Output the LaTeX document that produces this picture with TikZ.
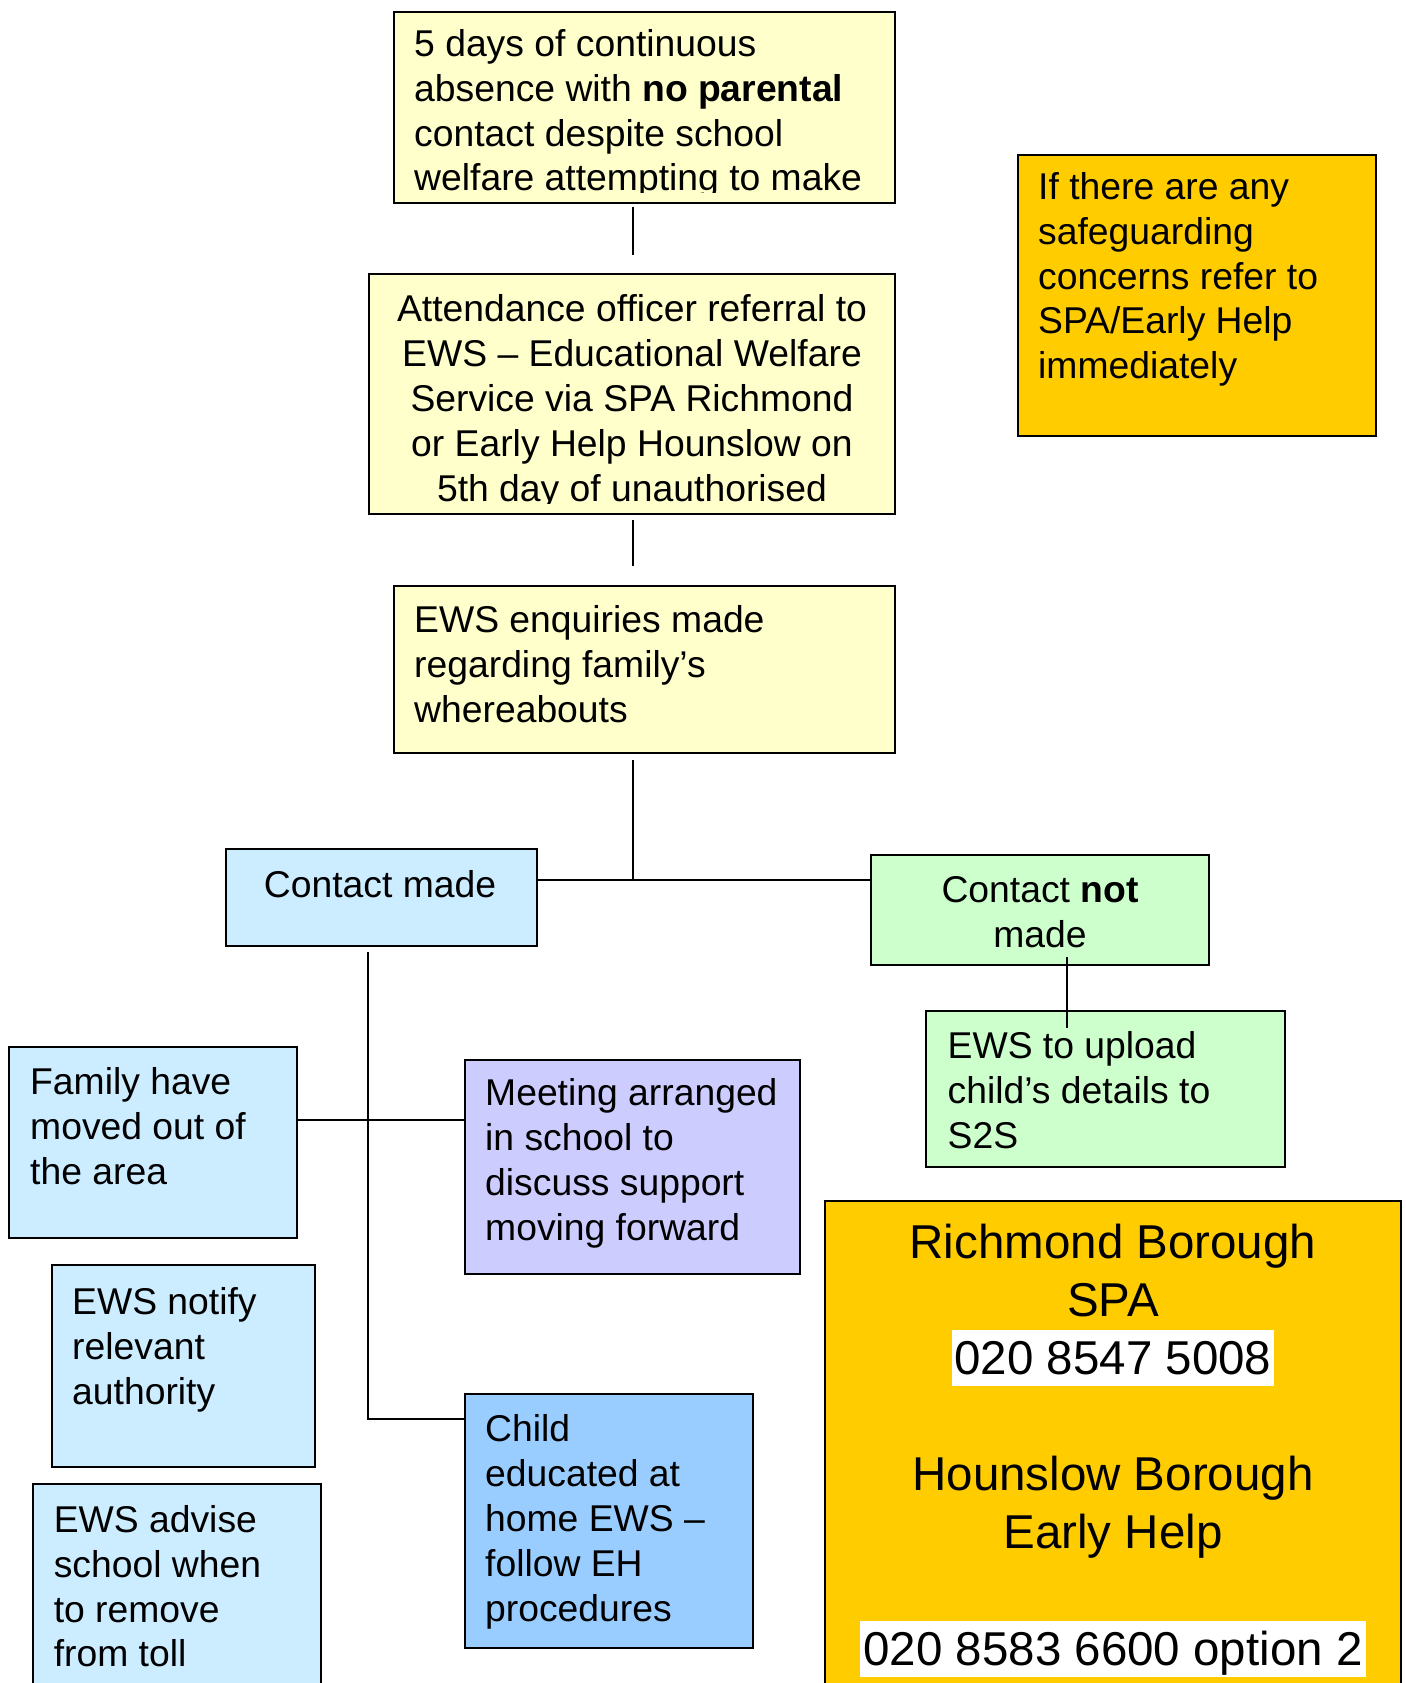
\documentclass[tikz,border=0pt]{standalone}
\usepackage{fontspec}
\setmainfont{Liberation Sans}
\definecolor{ylw}{HTML}{FFFFCC}
\definecolor{org}{HTML}{FFCC00}
\definecolor{lblue}{HTML}{CCECFF}
\definecolor{lgreen}{HTML}{CCFFCC}
\definecolor{lav}{HTML}{CCCCFF}
\definecolor{mblue}{HTML}{99CCFF}
\newcommand\LeftLines[1]{\vtop{\halign{##\hfil\cr#1\crcr}}}
\newcommand\CenLines[1]{\vtop{\halign{\hfil##\hfil\cr#1\crcr}}}
\tikzset{
  box/.style={draw=black, line width=2pt, inner sep=0pt, anchor=north west},
  txt/.style={inner sep=0pt, font=\fontsize{37.3}{44.8}\selectfont},
  bigtxt/.style={inner sep=0pt, font=\fontsize{47.5}{58}\selectfont},
  numtxt/.style={bigtxt, fill=white, inner xsep=3pt, inner ysep=0pt, text height=44.8pt, text depth=11.5pt},
  conn/.style={draw=black, line width=1.5pt},
}
\begin{document}
\begin{tikzpicture}[x=0.998pt,y=-0.998pt]
\useasboundingbox (0,0) rectangle (1408.8,1686.4);
\clip (0,0) rectangle (1408.8,1686.4);

% ---- boxes ----
\node[box, fill=ylw, minimum width=501pt, minimum height=190.6pt] (b1) at (394,11) {};
\node[box, fill=ylw, minimum width=526pt, minimum height=239.5pt] (b2) at (369,274) {};
\node[box, fill=ylw, minimum width=501pt, minimum height=167.6pt] (b3) at (394,586) {};
\node[box, fill=org, minimum width=358.3pt, minimum height=281.4pt] (safe) at (1019,154) {};
\node[box, fill=lblue, minimum width=311.4pt, minimum height=96.8pt] (cm) at (225,850) {};
\node[box, fill=lgreen, minimum width=337.3pt, minimum height=109.8pt] (cnm) at (872,856) {};
\node[box, fill=lgreen, minimum width=359.3pt, minimum height=155.7pt] (up) at (927,1012) {};
\node[box, fill=lblue, minimum width=288.4pt, minimum height=191.6pt] (fam) at (8,1048) {};
\node[box, fill=lav, minimum width=335.3pt, minimum height=214.6pt] (meet) at (465,1061) {};
\node[box, fill=lblue, minimum width=263.5pt, minimum height=201.6pt] (notify) at (51,1267) {};
\node[box, fill=lblue, minimum width=288.4pt, minimum height=240pt] (advise) at (32,1486) {};
\node[box, fill=mblue, minimum width=288.4pt, minimum height=253.5pt] (child) at (465,1396) {};
\node[box, fill=org, minimum width=575.8pt, minimum height=540pt] (big) at (826,1202) {};

% ---- texts and connectors (unscaled units) ----
\begin{scope}[x=1pt,y=-1pt]
\begin{scope}[yshift=-1.5pt]
\begin{scope}
  \clip (394,11) rectangle (896,191);
  \node[txt, anchor=base west] (t1) at (414,55) {\LeftLines{5 days of continuous\cr
    absence with \textbf{no parental}\cr contact despite school\cr welfare attempting to make\cr}};
\end{scope}
\begin{scope}
  \clip (369,274) rectangle (896,502);
  \node[txt, anchor=base] (t2) at (632,320.5) {\CenLines{Attendance officer referral to\cr
    EWS \textendash{} Educational Welfare\cr Service via SPA Richmond\cr
    or Early Help Hounslow on\cr 5th day of unauthorised\cr}};
\end{scope}
\node[txt, anchor=base west] (t3) at (414,631.5) {\LeftLines{EWS enquiries made\cr regarding family’s\cr whereabouts\cr}};
\node[txt, anchor=base west] (tsafe) at (1038,198) {\LeftLines{If there are any\cr safeguarding\cr concerns refer to\cr SPA/Early Help\cr immediately\cr}};
\node[txt, anchor=base] (tcm) at (380,896.5) {Contact made};
\node[txt, anchor=base] (tcnm) at (1040,901) {\CenLines{Contact \textbf{not}\cr made\cr}};
\node[txt, anchor=base west] (tup) at (947.5,1057.5) {\LeftLines{EWS to upload\cr child’s details to\cr S2S\cr}};
\node[txt, anchor=base west] (tfam) at (30,1093.5) {\LeftLines{Family have\cr moved out of\cr the area\cr}};
\node[txt, anchor=base west] (tmeet) at (485,1104.5) {\LeftLines{Meeting arranged\cr in school to\cr discuss support\cr moving forward\cr}};
\node[txt, anchor=base west] (tnotify) at (72,1313) {\LeftLines{EWS notify\cr relevant\cr authority\cr}};
\node[txt, anchor=base west] (tadvise) at (53.6,1531) {\LeftLines{EWS advise\cr school when\cr to remove\cr from toll\cr}};
\node[txt, anchor=base west] (tchild) at (485,1440.5) {\LeftLines{Child\cr educated at\cr home EWS \textendash\cr follow EH\cr procedures\cr}};

\node[bigtxt, anchor=base] (trich) at (1113,1257.5) {\CenLines{Richmond Borough\cr SPA\cr}};
\node[numtxt, anchor=base] (trichnum) at (1113,1373.5) {020 8547 5008};
\node[bigtxt, anchor=base] (thoun) at (1113,1489.5) {\CenLines{Hounslow Borough\cr Early Help\cr}};
\node[numtxt, anchor=base] (thounnum) at (1113,1664) {020 8583 6600 option 2};
\end{scope}

% ---- connectors ----
\coordinate (c1a) at (633,207);
\coordinate (c1b) at (633,255);
\draw[conn] (c1a) -- (c1b);
\coordinate (c2a) at (633,520);
\coordinate (c2b) at (633,566);
\draw[conn] (c2a) -- (c2b);
\coordinate (c3a) at (633,760);
\coordinate (j3) at (633,880);
\draw[conn] (c3a) -- (j3);
\draw[conn, line width=2pt] (cm.east |- j3) -- (cnm.west |- j3);
\coordinate (c4a) at (1067,957);
\coordinate (c4b) at (1067,1028);
\draw[conn] (c4a) -- (c4b);
\coordinate (c5a) at (368,952);
\coordinate (j5) at (368,1419);
\draw[conn] (c5a) -- (j5) -- (child.west |- j5);
\coordinate (j6) at (368,1120);
\draw[conn] (fam.east |- j6) -- (meet.west |- j6);
\end{scope}
\end{tikzpicture}
\end{document}
